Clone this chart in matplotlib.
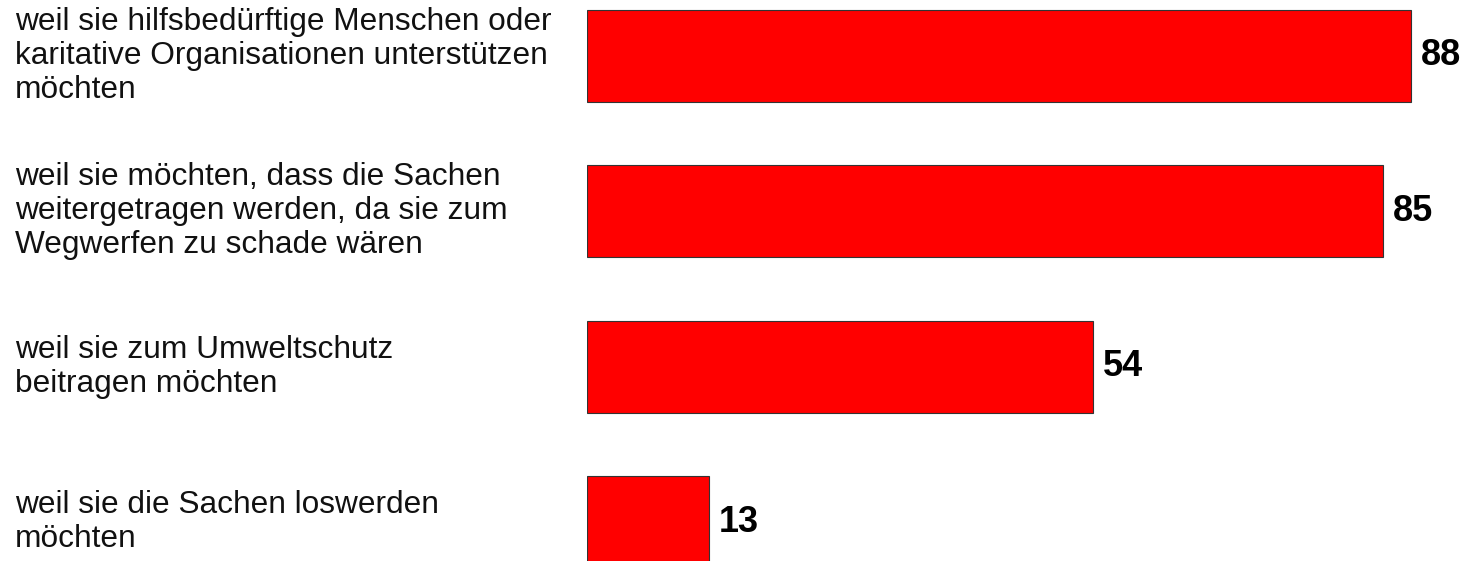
import matplotlib
matplotlib.use("Agg")
import matplotlib.pyplot as plt
from matplotlib.transforms import blended_transform_factory

categories = [
    "weil sie hilfsbedürftige Menschen oder\nkaritative Organisationen unterstützen\nmöchten",
    "weil sie möchten, dass die Sachen\nweitergetragen werden, da sie zum\nWegwerfen zu schade wären",
    "weil sie zum Umweltschutz\nbeitragen möchten",
    "weil sie die Sachen loswerden\nmöchten",
]
values = [88, 85, 54, 13]

plt.rcParams['font.family'] = ['Liberation Sans', 'DejaVu Sans']

W, H = 1468, 561
fig = plt.figure(figsize=(W / 100, H / 100), dpi=100)
left_px = 587
ax = fig.add_axes([left_px / W, 0, 1 - left_px / W, 1])

px_per_unit = 824 / 88
xmax = (W - left_px) / px_per_unit
ypos = list(range(len(values)))
ax.barh(ypos, values, height=0.592, color='#ff0000', edgecolor='#333333', linewidth=0.8)
ax.set_xlim(0, xmax)
ax.set_ylim(3.25, -0.36)
ax.axis('off')

trans = blended_transform_factory(fig.transFigure, ax.transData)
for y, lab in zip(ypos, categories):
    ax.text(15 / W, y, lab, transform=trans, ha='left', va='center',
            fontsize=22.8, linespacing=1.17, color='#111111', clip_on=False)

for y, v in zip(ypos, values):
    ax.annotate(str(v), xy=(v, y), xytext=(10, 0), textcoords='offset pixels',
                ha='left', va='center', fontsize=26, fontweight='bold', color='#000000')

fig.savefig('out.png', dpi=100)
